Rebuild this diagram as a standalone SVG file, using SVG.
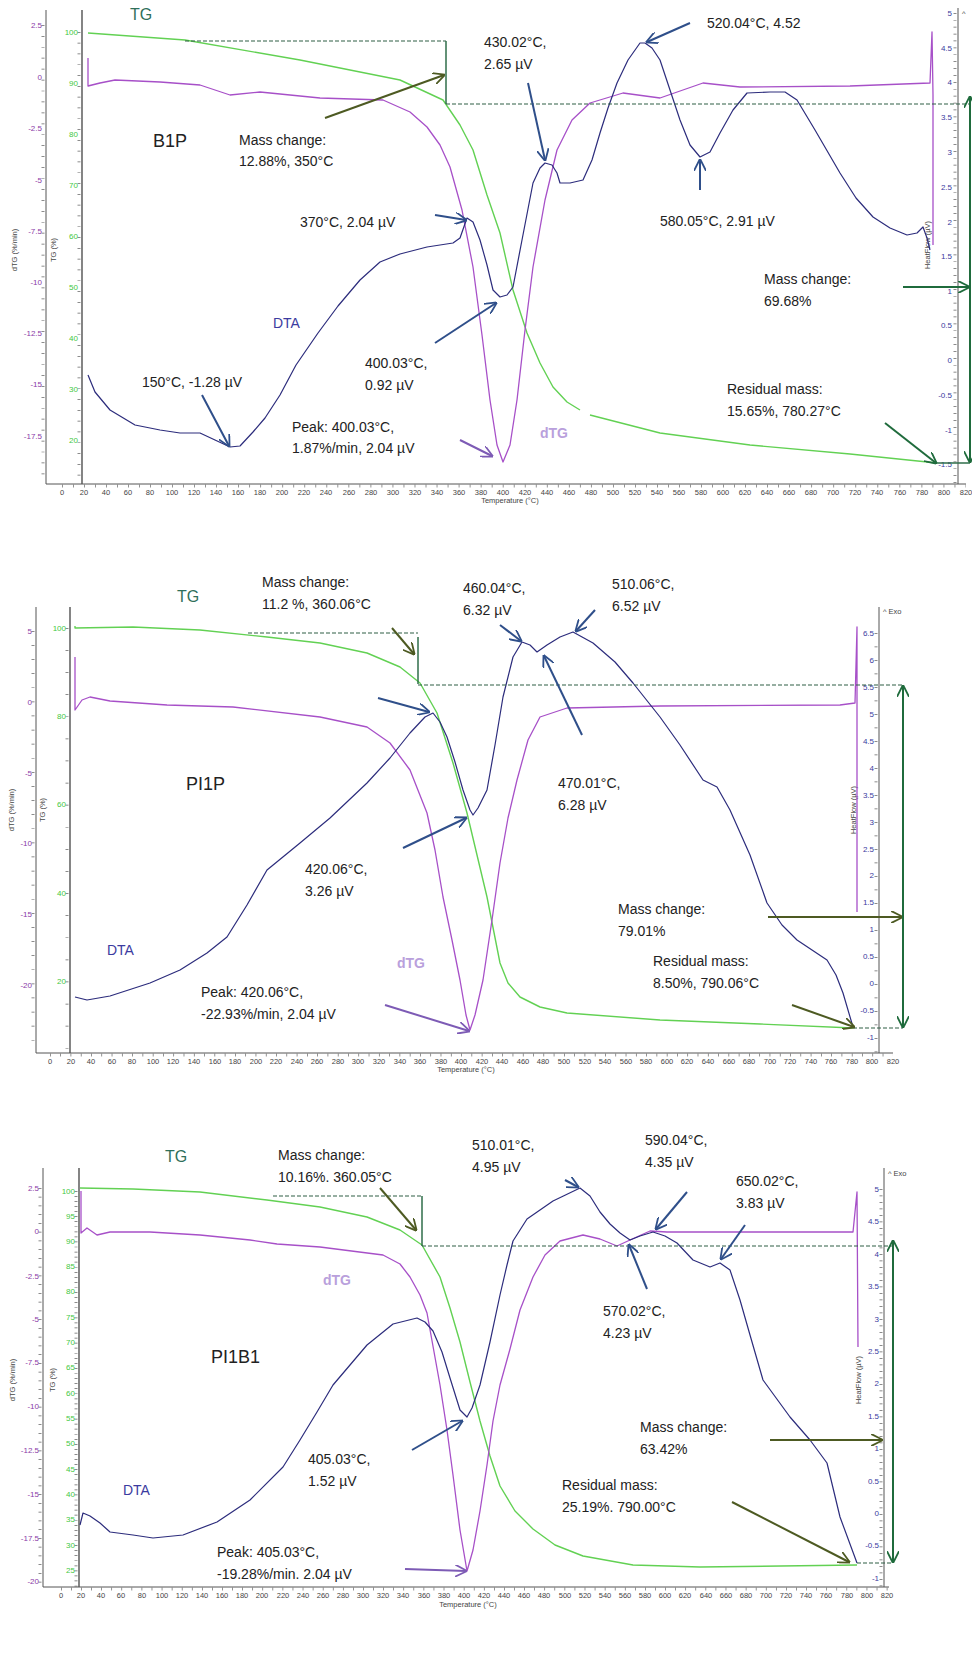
<svg xmlns="http://www.w3.org/2000/svg" width="972" height="1656" viewBox="0 0 972 1656">
<defs>
<style>
.ax{stroke:#555;stroke-width:1;fill:none}
.axd{stroke:#333;stroke-width:1.2;fill:none}
.tk{stroke:#666;stroke-width:3;fill:none}
.tg{stroke:#62d153;stroke-width:1.4;fill:none;stroke-linejoin:round}
.dtg{stroke:#a750c8;stroke-width:1.3;fill:none;stroke-linejoin:round}
.dta{stroke:#2c2c7c;stroke-width:1.2;fill:none;stroke-linejoin:round}
.dash{stroke:#2f5e45;stroke-width:1.2;stroke-dasharray:4 2;fill:none}
.step{stroke:#2f6e4a;stroke-width:1.5;fill:none}
.ab{stroke:#2f4f8a;stroke-width:2;fill:none;marker-end:url(#mb)}
.ao{stroke:#4d5a22;stroke-width:2;fill:none;marker-end:url(#mo)}
.ag{stroke:#1f6b3c;stroke-width:2;fill:none;marker-end:url(#mg)}
.ap{stroke:#7d5bb5;stroke-width:2;fill:none;marker-end:url(#mp)}
.agd{stroke:#1f6b3c;stroke-width:2;fill:none;marker-end:url(#mg);marker-start:url(#mgs)}
text{font-family:"Liberation Sans",Arial,sans-serif}
.an{font-size:14px;fill:#222}
.nm{font-size:18px;fill:#222}
.tgl{font-size:16px;fill:#2f6f5a}
.dtal{font-size:14px;fill:#3b3ba0}
.dtgl{font-size:14px;fill:#b9a0dc;font-weight:bold}
.xl{font-size:7.5px;fill:#444;text-anchor:middle}
.lp{font-size:8px;fill:#8a3aa8;text-anchor:end}
.lg{font-size:8px;fill:#43c843;text-anchor:end}
.lb{font-size:8px;fill:#3a3aa0;text-anchor:end}
.tt{font-size:7.5px;fill:#444}
</style>
<marker id="mb" viewBox="0 0 10 10" refX="9" refY="5" markerWidth="6" markerHeight="6" orient="auto" markerUnits="strokeWidth"><path d="M0,0 L10,5 L0,10" fill="none" stroke="#2f4f8a" stroke-width="1.5"/></marker>
<marker id="mo" viewBox="0 0 10 10" refX="9" refY="5" markerWidth="6" markerHeight="6" orient="auto" markerUnits="strokeWidth"><path d="M0,0 L10,5 L0,10" fill="none" stroke="#4d5a22" stroke-width="1.5"/></marker>
<marker id="mg" viewBox="0 0 10 10" refX="9" refY="5" markerWidth="6" markerHeight="6" orient="auto" markerUnits="strokeWidth"><path d="M0,0 L10,5 L0,10" fill="none" stroke="#1f6b3c" stroke-width="1.5"/></marker>
<marker id="mgs" viewBox="0 0 10 10" refX="1" refY="5" markerWidth="6" markerHeight="6" orient="auto" markerUnits="strokeWidth"><path d="M10,0 L0,5 L10,10" fill="none" stroke="#1f6b3c" stroke-width="1.5"/></marker>
<marker id="mp" viewBox="0 0 10 10" refX="9" refY="5" markerWidth="6" markerHeight="6" orient="auto" markerUnits="strokeWidth"><path d="M0,0 L10,5 L0,10" fill="none" stroke="#7d5bb5" stroke-width="1.5"/></marker>
</defs>
<rect width="972" height="1656" fill="#fff"/>

<!-- ============ PANEL 1 ============ -->
<g id="panel1-axes">
<line class="ax" x1="46" y1="10" x2="46" y2="484"/>
<line class="axd" x1="82" y1="10" x2="82" y2="484"/>
<line class="ax" x1="46" y1="484" x2="966" y2="484"/>
<line class="ax" x1="958" y1="8" x2="958" y2="484"/>
<line class="tk" x1="62" y1="486" x2="966" y2="486" stroke-dasharray="0.7 10.32"/>
<line class="tk" x1="43" y1="25" x2="43" y2="484" stroke-dasharray="0.7 10.24"/>
<line class="tk" x1="79" y1="32" x2="79" y2="484" stroke-dasharray="0.7 10.1"/>
<line class="tk" x1="955" y1="13" x2="955" y2="484" stroke-dasharray="0.7 6.2"/>
<text class="lp" x="42" y="28">2.5</text><text class="lp" x="42" y="80">0</text><text class="lp" x="42" y="131">-2.5</text><text class="lp" x="42" y="183">-5</text><text class="lp" x="42" y="234">-7.5</text><text class="lp" x="42" y="285">-10</text><text class="lp" x="42" y="336">-12.5</text><text class="lp" x="42" y="387">-15</text><text class="lp" x="42" y="439">-17.5</text>
<text class="lg" x="78" y="35">100</text><text class="lg" x="78" y="86">90</text><text class="lg" x="78" y="137">80</text><text class="lg" x="78" y="188">70</text><text class="lg" x="78" y="239">60</text><text class="lg" x="78" y="290">50</text><text class="lg" x="78" y="341">40</text><text class="lg" x="78" y="392">30</text><text class="lg" x="78" y="443">20</text>
<text class="lb" x="952" y="16">5</text><text class="lb" x="952" y="51">4.5</text><text class="lb" x="952" y="85">4</text><text class="lb" x="952" y="120">3.5</text><text class="lb" x="952" y="155">3</text><text class="lb" x="952" y="190">2.5</text><text class="lb" x="952" y="225">2</text><text class="lb" x="952" y="259">1.5</text><text class="lb" x="952" y="294">1</text><text class="lb" x="952" y="328">0.5</text><text class="lb" x="952" y="363">0</text><text class="lb" x="952" y="398">-0.5</text><text class="lb" x="952" y="433">-1</text><text class="lb" x="952" y="467">-1.5</text>
<text class="tt" transform="translate(17,250) rotate(-90)" text-anchor="middle">dTG (%/min)</text>
<text class="tt" transform="translate(56,250) rotate(-90)" text-anchor="middle">TG (%)</text>
<text class="tt" transform="translate(930,245) rotate(-90)" text-anchor="middle">HeatFlow (µV)</text>
<text class="tt" x="962" y="16">^</text>
<text class="tt" x="510" y="503" text-anchor="middle">Temperature (°C)</text>
<g class="xl"><text x="62" y="495">0</text><text x="84" y="495">20</text><text x="106" y="495">40</text><text x="128" y="495">60</text><text x="150" y="495">80</text><text x="172" y="495">100</text><text x="194" y="495">120</text><text x="216" y="495">140</text><text x="238" y="495">160</text><text x="260" y="495">180</text><text x="282" y="495">200</text><text x="304" y="495">220</text><text x="326" y="495">240</text><text x="349" y="495">260</text><text x="371" y="495">280</text><text x="393" y="495">300</text><text x="415" y="495">320</text><text x="437" y="495">340</text><text x="459" y="495">360</text><text x="481" y="495">380</text><text x="503" y="495">400</text><text x="525" y="495">420</text><text x="547" y="495">440</text><text x="569" y="495">460</text><text x="591" y="495">480</text><text x="613" y="495">500</text><text x="635" y="495">520</text><text x="657" y="495">540</text><text x="679" y="495">560</text><text x="701" y="495">580</text><text x="723" y="495">600</text><text x="745" y="495">620</text><text x="767" y="495">640</text><text x="789" y="495">660</text><text x="811" y="495">680</text><text x="833" y="495">700</text><text x="855" y="495">720</text><text x="877" y="495">740</text><text x="900" y="495">760</text><text x="922" y="495">780</text><text x="944" y="495">800</text><text x="966" y="495">820</text></g>
</g>
<g id="panel1-curves">
<polyline class="tg" points="88,33 185,40 300,60 400,80 443,100 460,125 473,150 487,195 500,233 513,290 527,333 540,363 553,387 567,402 580,410"/>
<polyline class="tg" points="590,415 660,433 750,445 850,454 937,463"/>
<polyline class="dtg" points="88,58 88,86 100,83 115,80 160,82 200,85 230,95 260,92 320,98 383,100 410,112 427,127 440,145 450,167 462,210 473,267 482,335 490,400 497,445 503,462 510,445 517,400 525,330 533,267 545,200 557,150 572,120 590,103 623,93 660,98 703,83 740,87 850,86 930,83 932,32 933,95 933,245"/>
<polyline class="dta" points="88,375 95,392 110,410 135,425 160,430 180,433 200,433 215,440 230,447 240,446 253,432 265,418 280,395 296,365 318,333 338,306 360,280 380,262 400,254 427,247 453,243 460,238 467,218 473,222 480,240 487,265 493,290 500,297 507,295 513,287 522,240 533,183 540,168 545,163 552,165 557,173 560,183 570,183 583,180 592,160 600,133 608,108 617,83 628,60 640,43 645,43 652,48 660,60 670,90 680,120 690,145 700,157 710,152 720,133 733,110 747,93 770,92 785,92 797,100 815,130 840,173 856,198 873,217 890,228 907,235 917,233 923,227 927,238 930,250"/>
<polyline class="dash" points="185,41 446,41"/>
<polyline class="step" points="446,41 446,104"/>
<polyline class="dash" points="446,104 970,104"/>
</g>
<g id="panel1-labels">
<text class="tgl" x="130" y="20">TG</text>
<text class="nm" x="153" y="147">B1P</text>
<text class="an" x="239" y="145">Mass change:</text><text class="an" x="239" y="166">12.88%, 350°C</text>
<text class="an" x="300" y="227">370°C, 2.04 µV</text>
<text class="dtal" x="273" y="328">DTA</text>
<text class="an" x="142" y="387">150°C, -1.28 µV</text>
<text class="an" x="292" y="432">Peak: 400.03°C,</text><text class="an" x="292" y="453">1.87%/min, 2.04 µV</text>
<text class="an" x="365" y="368">400.03°C,</text><text class="an" x="365" y="390">0.92 µV</text>
<text class="dtgl" x="540" y="438">dTG</text>
<text class="an" x="484" y="47">430.02°C,</text><text class="an" x="484" y="69">2.65 µV</text>
<text class="an" x="707" y="28">520.04°C, 4.52</text>
<text class="an" x="660" y="226">580.05°C, 2.91 µV</text>
<text class="an" x="764" y="284">Mass change:</text><text class="an" x="764" y="306">69.68%</text>
<text class="an" x="727" y="394">Residual mass:</text><text class="an" x="727" y="416">15.65%, 780.27°C</text>
</g>
<g id="panel1-arrows">
<line class="ao" x1="325" y1="118" x2="444" y2="75"/>
<line class="ab" x1="435" y1="215" x2="466" y2="220"/>
<line class="ab" x1="435" y1="343" x2="496" y2="303"/>
<line class="ab" x1="528" y1="83" x2="545" y2="160"/>
<line class="ab" x1="690" y1="23" x2="647" y2="42"/>
<line class="ab" x1="700" y1="190" x2="700" y2="160"/>
<line class="ab" x1="202" y1="395" x2="229" y2="446"/>
<line class="ap" x1="460" y1="440" x2="492" y2="456"/>
<line class="ag" x1="903" y1="287" x2="969" y2="287"/>
<line class="ag" x1="885" y1="423" x2="936" y2="463"/>
<line class="agd" x1="970" y1="97" x2="970" y2="462"/>
<line class="step" x1="937" y1="463" x2="970" y2="463"/>
</g>

<!-- ============ PANEL 2 ============ -->
<g id="panel2-axes">
<line class="ax" x1="36" y1="607" x2="36" y2="1053"/>
<line class="axd" x1="70" y1="607" x2="70" y2="1053"/>
<line class="ax" x1="36" y1="1053" x2="893" y2="1053"/>
<line class="ax" x1="879" y1="607" x2="879" y2="1053"/>
<line class="tk" x1="50" y1="1055" x2="893" y2="1055" stroke-dasharray="0.7 9.58"/>
<line class="tk" x1="33" y1="631" x2="33" y2="1053" stroke-dasharray="0.7 13.4"/>
<line class="tk" x1="67" y1="628" x2="67" y2="1053" stroke-dasharray="0.7 21.4"/>
<line class="tk" x1="876" y1="633" x2="876" y2="1053" stroke-dasharray="0.7 12.8"/>
<text class="lp" x="32" y="634">5</text><text class="lp" x="32" y="705">0</text><text class="lp" x="32" y="776">-5</text><text class="lp" x="32" y="846">-10</text><text class="lp" x="32" y="917">-15</text><text class="lp" x="32" y="988">-20</text>
<text class="lg" x="66" y="631">100</text><text class="lg" x="66" y="719">80</text><text class="lg" x="66" y="807">60</text><text class="lg" x="66" y="896">40</text><text class="lg" x="66" y="984">20</text>
<text class="lb" x="874" y="636">6.5</text><text class="lb" x="874" y="663">6</text><text class="lb" x="874" y="690">5.5</text><text class="lb" x="874" y="717">5</text><text class="lb" x="874" y="744">4.5</text><text class="lb" x="874" y="771">4</text><text class="lb" x="874" y="798">3.5</text><text class="lb" x="874" y="825">3</text><text class="lb" x="874" y="852">2.5</text><text class="lb" x="874" y="878">2</text><text class="lb" x="874" y="905">1.5</text><text class="lb" x="874" y="932">1</text><text class="lb" x="874" y="959">0.5</text><text class="lb" x="874" y="986">0</text><text class="lb" x="874" y="1013">-0.5</text><text class="lb" x="874" y="1040">-1</text>
<text class="tt" transform="translate(14,810) rotate(-90)" text-anchor="middle">dTG (%/min)</text>
<text class="tt" transform="translate(45,810) rotate(-90)" text-anchor="middle">TG (%)</text>
<text class="tt" transform="translate(856,810) rotate(-90)" text-anchor="middle">HeatFlow (µV)</text>
<text class="tt" x="883" y="614">^  Exo</text>
<text class="tt" x="466" y="1072" text-anchor="middle">Temperature (°C)</text>
<g class="xl"><text x="50" y="1064">0</text><text x="71" y="1064">20</text><text x="91" y="1064">40</text><text x="112" y="1064">60</text><text x="132" y="1064">80</text><text x="153" y="1064">100</text><text x="173" y="1064">120</text><text x="194" y="1064">140</text><text x="215" y="1064">160</text><text x="235" y="1064">180</text><text x="256" y="1064">200</text><text x="276" y="1064">220</text><text x="297" y="1064">240</text><text x="317" y="1064">260</text><text x="338" y="1064">280</text><text x="358" y="1064">300</text><text x="379" y="1064">320</text><text x="400" y="1064">340</text><text x="420" y="1064">360</text><text x="441" y="1064">380</text><text x="461" y="1064">400</text><text x="482" y="1064">420</text><text x="502" y="1064">440</text><text x="523" y="1064">460</text><text x="543" y="1064">480</text><text x="564" y="1064">500</text><text x="585" y="1064">520</text><text x="605" y="1064">540</text><text x="626" y="1064">560</text><text x="646" y="1064">580</text><text x="667" y="1064">600</text><text x="687" y="1064">620</text><text x="708" y="1064">640</text><text x="729" y="1064">660</text><text x="749" y="1064">680</text><text x="770" y="1064">700</text><text x="790" y="1064">720</text><text x="811" y="1064">740</text><text x="831" y="1064">760</text><text x="852" y="1064">780</text><text x="872" y="1064">800</text><text x="893" y="1064">820</text></g>
</g>
<g id="panel2-curves">
<polyline class="tg" points="75,626 75,628 133,627 200,630 267,637 320,643 367,653 400,667 420,683 437,713 453,763 467,813 477,855 487,897 500,963 508,983 520,997 540,1007 567,1013 660,1020 760,1024 853,1028"/>
<polyline class="dtg" points="75,657 75,710 82,700 90,697 110,701 167,705 233,707 320,717 367,727 390,743 410,770 427,813 435,850 443,897 452,940 460,980 466,1015 470,1030 475,1015 483,980 492,920 500,863 508,818 517,780 528,740 540,717 567,708 660,706 840,705 855,703 857,627 857,912"/>
<polyline class="dta" points="75,997 87,1000 110,996 150,983 180,970 207,953 227,937 247,905 267,870 300,843 330,818 367,783 390,758 410,733 425,717 433,713 440,722 447,737 455,762 463,790 470,810 473,815 478,808 487,790 495,745 503,697 513,657 522,642 530,645 537,652 547,645 560,637 573,632 593,643 615,662 633,683 660,717 680,745 703,780 717,787 730,810 750,855 767,903 782,925 797,940 815,952 827,960 836,975 843,993 853,1027"/>
<polyline class="dash" points="248,633 418,633"/>
<polyline class="step" points="418,637 418,684"/>
<polyline class="dash" points="418,685 903,685"/>
<polyline class="dash" points="853,1028 903,1028"/>
</g>
<g id="panel2-labels">
<text class="tgl" x="177" y="602">TG</text>
<text class="an" x="262" y="587">Mass change:</text><text class="an" x="262" y="609">11.2 %, 360.06°C</text>
<text class="nm" x="186" y="790">PI1P</text>
<text class="dtal" x="107" y="955">DTA</text>
<text class="an" x="201" y="997">Peak: 420.06°C,</text><text class="an" x="201" y="1019">-22.93%/min, 2.04 µV</text>
<text class="dtgl" x="397" y="968">dTG</text>
<text class="an" x="305" y="874">420.06°C,</text><text class="an" x="305" y="896">3.26 µV</text>
<text class="an" x="463" y="593">460.04°C,</text><text class="an" x="463" y="615">6.32 µV</text>
<text class="an" x="612" y="589">510.06°C,</text><text class="an" x="612" y="611">6.52 µV</text>
<text class="an" x="558" y="788">470.01°C,</text><text class="an" x="558" y="810">6.28 µV</text>
<text class="an" x="618" y="914">Mass change:</text><text class="an" x="618" y="936">79.01%</text>
<text class="an" x="653" y="966">Residual mass:</text><text class="an" x="653" y="988">8.50%, 790.06°C</text>
</g>
<g id="panel2-arrows">
<line class="ao" x1="392" y1="628" x2="414" y2="654"/>
<line class="ab" x1="378" y1="698" x2="429" y2="712"/>
<line class="ab" x1="403" y1="848" x2="466" y2="818"/>
<line class="ab" x1="500" y1="625" x2="521" y2="641"/>
<line class="ab" x1="595" y1="610" x2="576" y2="631"/>
<line class="ab" x1="582" y1="735" x2="544" y2="656"/>
<line class="ap" x1="385" y1="1005" x2="469" y2="1031"/>
<line class="ao" x1="768" y1="917" x2="902" y2="917"/>
<line class="ao" x1="792" y1="1005" x2="854" y2="1027"/>
<line class="agd" x1="903" y1="686" x2="903" y2="1027"/>
</g>

<!-- ============ PANEL 3 ============ -->
<g id="panel3-axes">
<line class="ax" x1="43" y1="1168" x2="43" y2="1587"/>
<line class="axd" x1="79" y1="1168" x2="79" y2="1587"/>
<line class="ax" x1="43" y1="1587" x2="889" y2="1587"/>
<line class="ax" x1="884" y1="1168" x2="884" y2="1587"/>
<line class="tk" x1="61" y1="1589" x2="889" y2="1589" stroke-dasharray="0.7 9.37"/>
<line class="tk" x1="40" y1="1188" x2="40" y2="1587" stroke-dasharray="0.7 8.05"/>
<line class="tk" x1="76" y1="1191" x2="76" y2="1587" stroke-dasharray="0.7 4.36"/>
<line class="tk" x1="881" y1="1189" x2="881" y2="1587" stroke-dasharray="0.7 5.8"/>
<text class="lp" x="39" y="1191">2.5</text><text class="lp" x="39" y="1234">0</text><text class="lp" x="39" y="1279">-2.5</text><text class="lp" x="39" y="1322">-5</text><text class="lp" x="39" y="1365">-7.5</text><text class="lp" x="39" y="1409">-10</text><text class="lp" x="39" y="1453">-12.5</text><text class="lp" x="39" y="1497">-15</text><text class="lp" x="39" y="1541">-17.5</text><text class="lp" x="39" y="1584">-20</text>
<text class="lg" x="75" y="1194">100</text><text class="lg" x="75" y="1219">95</text><text class="lg" x="75" y="1244">90</text><text class="lg" x="75" y="1269">85</text><text class="lg" x="75" y="1294">80</text><text class="lg" x="75" y="1320">75</text><text class="lg" x="75" y="1345">70</text><text class="lg" x="75" y="1370">65</text><text class="lg" x="75" y="1396">60</text><text class="lg" x="75" y="1421">55</text><text class="lg" x="75" y="1446">50</text><text class="lg" x="75" y="1472">45</text><text class="lg" x="75" y="1497">40</text><text class="lg" x="75" y="1522">35</text><text class="lg" x="75" y="1548">30</text><text class="lg" x="75" y="1573">25</text>
<text class="lb" x="879" y="1192">5</text><text class="lb" x="879" y="1224">4.5</text><text class="lb" x="879" y="1257">4</text><text class="lb" x="879" y="1289">3.5</text><text class="lb" x="879" y="1322">3</text><text class="lb" x="879" y="1354">2.5</text><text class="lb" x="879" y="1386">2</text><text class="lb" x="879" y="1419">1.5</text><text class="lb" x="879" y="1451">1</text><text class="lb" x="879" y="1484">0.5</text><text class="lb" x="879" y="1516">0</text><text class="lb" x="879" y="1548">-0.5</text><text class="lb" x="879" y="1581">-1</text>
<text class="tt" transform="translate(15,1380) rotate(-90)" text-anchor="middle">dTG (%/min)</text>
<text class="tt" transform="translate(55,1380) rotate(-90)" text-anchor="middle">TG (%)</text>
<text class="tt" transform="translate(861,1380) rotate(-90)" text-anchor="middle">HeatFlow (µV)</text>
<text class="tt" x="888" y="1176">^  Exo</text>
<text class="tt" x="468" y="1607" text-anchor="middle">Temperature (°C)</text>
<g class="xl"><text x="61" y="1598">0</text><text x="81" y="1598">20</text><text x="101" y="1598">40</text><text x="121" y="1598">60</text><text x="142" y="1598">80</text><text x="162" y="1598">100</text><text x="182" y="1598">120</text><text x="202" y="1598">140</text><text x="222" y="1598">160</text><text x="242" y="1598">180</text><text x="262" y="1598">200</text><text x="283" y="1598">220</text><text x="303" y="1598">240</text><text x="323" y="1598">260</text><text x="343" y="1598">280</text><text x="363" y="1598">300</text><text x="383" y="1598">320</text><text x="403" y="1598">340</text><text x="424" y="1598">360</text><text x="444" y="1598">380</text><text x="464" y="1598">400</text><text x="484" y="1598">420</text><text x="504" y="1598">440</text><text x="524" y="1598">460</text><text x="544" y="1598">480</text><text x="565" y="1598">500</text><text x="585" y="1598">520</text><text x="605" y="1598">540</text><text x="625" y="1598">560</text><text x="645" y="1598">580</text><text x="665" y="1598">600</text><text x="685" y="1598">620</text><text x="706" y="1598">640</text><text x="726" y="1598">660</text><text x="746" y="1598">680</text><text x="766" y="1598">700</text><text x="786" y="1598">720</text><text x="806" y="1598">740</text><text x="826" y="1598">760</text><text x="847" y="1598">780</text><text x="867" y="1598">800</text><text x="887" y="1598">820</text></g>
</g>
<g id="panel3-curves">
<polyline class="tg" points="80,1188 133,1189 200,1192 267,1200 320,1207 367,1217 400,1230 422,1245 440,1277 450,1308 460,1342 470,1382 480,1421 490,1456 500,1486 515,1511 533,1529 555,1545 583,1556 633,1565 700,1567 857,1565"/>
<polyline class="dtg" points="81,1191 81,1233 87,1228 97,1235 110,1232 150,1232 200,1235 250,1240 277,1244 320,1247 383,1255 400,1264 410,1277 420,1295 427,1313 440,1385 447,1430 453,1475 460,1530 467,1571 473,1550 480,1511 487,1465 493,1421 500,1385 510,1349 520,1310 533,1277 545,1255 560,1241 583,1235 600,1239 617,1246 630,1240 650,1231 667,1232 707,1232 807,1232 853,1232 857,1192 858,1347"/>
<polyline class="dta" points="80,1525 83,1513 90,1516 100,1523 110,1532 133,1535 153,1538 183,1535 217,1522 250,1500 283,1467 300,1440 317,1412 333,1385 367,1345 393,1324 417,1318 425,1322 433,1331 442,1352 450,1378 460,1410 467,1417 472,1408 480,1385 490,1342 500,1295 507,1265 513,1241 527,1219 553,1201 580,1188 590,1196 600,1212 610,1224 620,1233 630,1240 640,1236 653,1232 665,1236 677,1243 693,1260 710,1267 720,1263 730,1270 740,1300 750,1335 763,1380 790,1417 810,1440 827,1463 840,1517 857,1563"/>
<polyline class="dash" points="273,1196 422,1196"/>
<polyline class="step" points="422,1196 422,1246"/>
<polyline class="dash" points="422,1246 893,1246"/>
<polyline class="dash" points="857,1563 893,1563"/>
</g>
<g id="panel3-labels">
<text class="tgl" x="165" y="1162">TG</text>
<text class="an" x="278" y="1160">Mass change:</text><text class="an" x="278" y="1182">10.16%. 360.05°C</text>
<text class="nm" x="211" y="1363">PI1B1</text>
<text class="dtal" x="123" y="1495">DTA</text>
<text class="an" x="217" y="1557">Peak: 405.03°C,</text><text class="an" x="217" y="1579">-19.28%/min. 2.04 µV</text>
<text class="dtgl" x="323" y="1285">dTG</text>
<text class="an" x="308" y="1464">405.03°C,</text><text class="an" x="308" y="1486">1.52 µV</text>
<text class="an" x="472" y="1150">510.01°C,</text><text class="an" x="472" y="1172">4.95 µV</text>
<text class="an" x="645" y="1145">590.04°C,</text><text class="an" x="645" y="1167">4.35 µV</text>
<text class="an" x="736" y="1186">650.02°C,</text><text class="an" x="736" y="1208">3.83 µV</text>
<text class="an" x="603" y="1316">570.02°C,</text><text class="an" x="603" y="1338">4.23 µV</text>
<text class="an" x="640" y="1432">Mass change:</text><text class="an" x="640" y="1454">63.42%</text>
<text class="an" x="562" y="1490">Residual mass:</text><text class="an" x="562" y="1512">25.19%. 790.00°C</text>
</g>
<g id="panel3-arrows">
<line class="ao" x1="380" y1="1188" x2="416" y2="1230"/>
<line class="ab" x1="565" y1="1180" x2="578" y2="1187"/>
<line class="ab" x1="687" y1="1192" x2="656" y2="1229"/>
<line class="ab" x1="745" y1="1225" x2="721" y2="1259"/>
<line class="ab" x1="647" y1="1289" x2="629" y2="1245"/>
<line class="ab" x1="412" y1="1450" x2="462" y2="1421"/>
<line class="ap" x1="405" y1="1569" x2="466" y2="1571"/>
<line class="ao" x1="770" y1="1440" x2="882" y2="1440"/>
<line class="ao" x1="732" y1="1502" x2="849" y2="1562"/>
<line class="agd" x1="893" y1="1241" x2="893" y2="1562"/>
</g>
</svg>
